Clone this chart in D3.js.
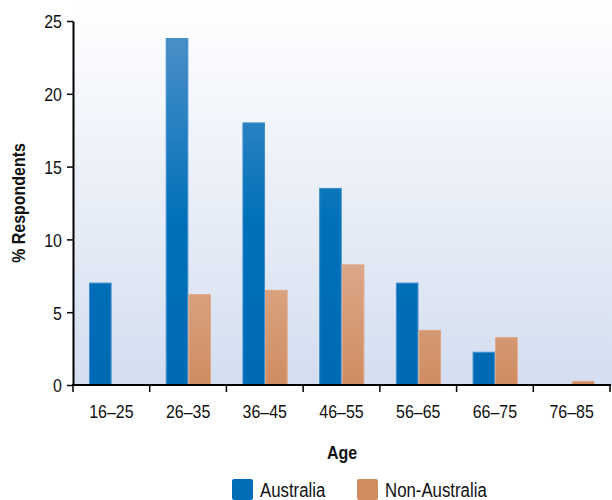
<!DOCTYPE html>
<html><head><meta charset="utf-8">
<script src="https://cdn.jsdelivr.net/npm/d3@7/dist/d3.min.js"></script>
<style>
body{margin:0;background:#fff;}
text{font-family:"Liberation Sans Narrow","Arial Narrow","Liberation Sans",sans-serif;fill:#111;}
</style></head>
<body>
<svg id="c" width="612" height="500"></svg>
<script>
const categories = ["16–25","26–35","36–45","46–55","56–65","66–75","76–85"];
const seriesNames = ["Australia","Non-Australia"];
const australia = [7, 23.8, 18, 13.5, 7, 2.25, 0];
const nonAustralia = [0, 6.2, 6.5, 8.25, 3.75, 3.25, 0.25];
const yTicks = [0,5,10,15,20,25];

const svg = d3.select("#c");
const m = {l:73, r:610, t:21, b:385};
const defs = svg.append("defs");
const bg = defs.append("linearGradient").attr("id","bg").attr("x1",0).attr("y1",0).attr("x2",0).attr("y2",1);
bg.append("stop").attr("offset","0%").attr("stop-color","#ffffff");
bg.append("stop").attr("offset","100%").attr("stop-color","#d4def0");
const gA = defs.append("linearGradient").attr("id","gA").attr("gradientUnits","userSpaceOnUse").attr("x1",0).attr("y1",m.t).attr("x2",0).attr("y2",m.b);
gA.append("stop").attr("offset","0%").attr("stop-color","#5191c9");
gA.append("stop").attr("offset","55%").attr("stop-color","#0071b9");
gA.append("stop").attr("offset","100%").attr("stop-color","#006ab4");
const gN = defs.append("linearGradient").attr("id","gN").attr("gradientUnits","userSpaceOnUse").attr("x1",0).attr("y1",250).attr("x2",0).attr("y2",m.b);
gN.append("stop").attr("offset","0%").attr("stop-color","#dcab8c");
gN.append("stop").attr("offset","100%").attr("stop-color","#d08c62");

svg.append("rect").attr("x",m.l).attr("y",0).attr("width",612-m.l).attr("height",m.b).attr("fill","url(#bg)");

const x0 = d3.scaleBand().domain(categories).range([m.l,m.r]).padding(0);
const x1 = d3.scaleBand().domain(seriesNames).range([16, x0.bandwidth()-15.5]).padding(0);
const y = d3.scaleLinear().domain([0,25]).range([m.b,m.t]);

const rows = categories.map((c,i)=>({c, vals:[{s:"Australia",v:australia[i]},{s:"Non-Australia",v:nonAustralia[i]}]}));
const g = svg.append("g").selectAll("g").data(rows).join("g").attr("transform",d=>`translate(${x0(d.c)},0)`);
g.selectAll("rect").data(d=>d.vals.filter(e=>e.v>0)).join("rect")
  .attr("x",d=>x1(d.s)+0.5).attr("width",x1.bandwidth()-1)
  .attr("y",d=>y(d.v)).attr("height",d=>y(0)-y(d.v))
  .attr("fill",d=>d.s==="Australia"?"url(#gA)":"url(#gN)")
  .attr("stroke",d=>d.s==="Australia"?"#3f8fd0":"#e0a584").attr("stroke-width",1);

function condense(sel, f){
  sel.each(function(){
    const w = this.getComputedTextLength();
    d3.select(this).attr("textLength", w*f).attr("lengthAdjust","spacingAndGlyphs");
  });
}

// y axis
const ya = svg.append("g").attr("transform",`translate(${m.l},0)`)
  .call(d3.axisLeft(y).tickValues(yTicks).tickSize(6).tickPadding(5).tickSizeOuter(0));
ya.select(".domain").attr("stroke","#000").attr("stroke-width",2);
ya.selectAll(".tick line").attr("stroke","#000").attr("stroke-width",1.5);
ya.selectAll(".tick text").attr("font-size",19).attr("fill","#111").attr("font-family",null).attr("dy","0.36em");

// x axis
const xa = svg.append("g").attr("transform",`translate(0,${m.b})`)
  .call(d3.axisBottom(x0).tickSize(0).tickPadding(20));
xa.select(".domain").remove();
xa.selectAll(".tick text").attr("font-size",19).attr("fill","#111").attr("font-family",null).attr("dy","0.66em");
svg.append("line").attr("x1",m.l-1).attr("x2",m.r+1).attr("y1",m.b).attr("y2",m.b).attr("stroke","#000").attr("stroke-width",2);
const bounds = categories.map(c=>x0(c)).concat([m.r]);
svg.append("g").selectAll("line").data(bounds).join("line")
  .attr("x1",d=>d).attr("x2",d=>d).attr("y1",m.b).attr("y2",m.b+7).attr("stroke","#000").attr("stroke-width",1.5);

const yt = svg.append("text").attr("transform","translate(25,203) rotate(-90)").attr("text-anchor","middle")
  .attr("font-size",19).attr("font-weight","bold").text("% Respondents");
const at = svg.append("text").attr("x",342).attr("y",459).attr("text-anchor","middle")
  .attr("font-size",19).attr("font-weight","bold").text("Age");

// legend
const leg = [{s:"Australia",x:232,c:"#006eb7"},{s:"Non-Australia",x:357,c:"#d08c60"}];
const lg = svg.append("g").selectAll("g").data(leg).join("g").attr("transform",d=>`translate(${d.x},479)`);
lg.append("rect").attr("width",21).attr("height",21).attr("rx",2).attr("fill",d=>d.c);
const lt = lg.append("text").attr("x",28).attr("y",18).attr("font-size",20).text(d=>d.s);

condense(ya.selectAll(".tick text"), 0.84);
condense(xa.selectAll(".tick text"), 0.84);
condense(yt, 0.84);
condense(at, 0.84);
condense(lt, 0.84);
</script>
</body></html>
